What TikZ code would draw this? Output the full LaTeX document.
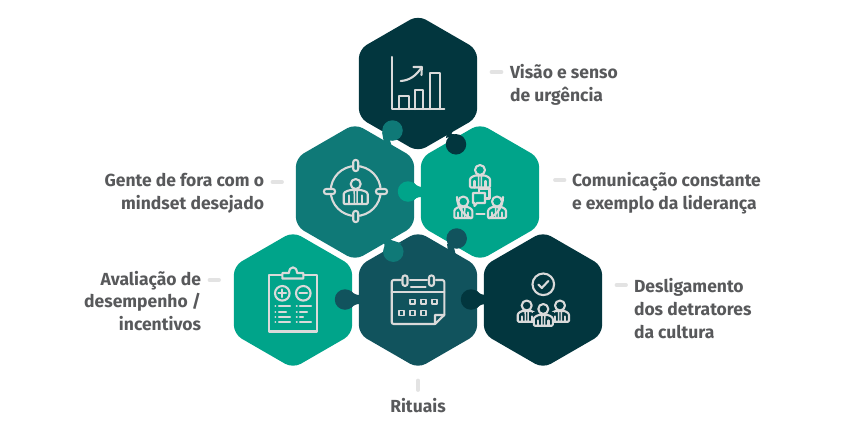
\documentclass[tikz,border=0pt]{standalone}
\usepackage{fontspec}
\setmainfont{Fira Sans}
\usetikzlibrary{shapes.geometric,arrows.meta}
\definecolor{cdark}{HTML}{02363E}
\definecolor{cteal}{HTML}{0F7977}
\definecolor{cgreen}{HTML}{00A48A}
\definecolor{cmid}{HTML}{11535D}
\definecolor{cicon}{HTML}{DADADA}
\definecolor{ctext}{HTML}{58595B}
\definecolor{cdash}{HTML}{E3E3E3}
\tikzset{
 x=1pt,y=-1pt,
 hexa/.style={regular polygon,regular polygon sides=6,shape border rotate=30,minimum size=136.6pt,inner sep=0pt,outer sep=0pt,fill=#1,draw=none,rounded corners=9pt},
 knob/.style={circle,minimum size=20.5pt,inner sep=0pt,outer sep=0pt,fill=#1,draw=none},
 lab/.style={font=\bfseries\fontsize{17.5}{22.7}\selectfont,text=ctext,inner sep=0pt,outer sep=0pt,align=#1},
 dashmark/.style={draw=cdash,line width=3.8pt,line cap=round},
 ico/.style={draw=cicon,line width=2.1pt,line join=round,line cap=round},
}
% person: cx, head centre y, head r, half width, body top, body bottom
\newcommand{\personicon}[6]{%
 \draw[ico] (#1,#2) circle (#3);
 \draw[ico,rounded corners=1pt] (#1-#4,#6) -- (#1-#4,#5+5) .. controls (#1-#4,#5+1.5) and (#1-#4*.5,#5) .. (#1-#3*.6,#5)
   -- (#1+#3*.6,#5) .. controls (#1+#4*.5,#5) and (#1+#4,#5+1.5) .. (#1+#4,#5+5) -- (#1+#4,#6) -- cycle;
 \draw[ico] (#1-#4*.55,#6) -- (#1-#4*.55,#5+5.5);
 \draw[ico] (#1+#4*.55,#6) -- (#1+#4*.55,#5+5.5);
 \draw[ico,line width=1.5pt] (#1-#3*.3,#5+.5) -- (#1-1.3,#6) -- (#1+1.3,#6) -- (#1+#3*.3,#5+.5);
}
\begin{document}
\begin{tikzpicture}
\useasboundingbox (0,0) rectangle (849,429);
% hexagons
\node[hexa=cdark]  (hA) at (418,83.5) {};
\node[hexa=cteal]  (hB) at (355,192) {};
\node[hexa=cgreen] (hC) at (480,192) {};
\node[hexa=cgreen] (hD) at (293,300) {};
\node[hexa=cmid]   (hE) at (418,300) {};
\node[hexa=cdark]  (hF) at (543,300) {};
% knobs with necks
\node[knob=cteal] (k1) at (392.5,130.5) {};
\fill[cteal] (382,132) -- (384,143) -- (392,147) -- (390,140.5) -- (396,139) -- cycle;
\node[knob=cdark] (k2) at (456,144.3) {};
\fill[cdark] (446,138) -- (447,132) -- (454,128) -- (451.5,134) -- (457,134.5) -- cycle;
\node[knob=cgreen] (k3) at (408,191.5) {};
\fill[cgreen] (414,183) .. controls (417,186) and (419,187) .. (423,187) -- (423,197) .. controls (419,197) and (417,197) .. (414,200) -- cycle;
\node[knob=cmid] (k4) at (456.7,238.5) {};
\fill[cmid] (447,243.5) -- (448,252) -- (456,256) -- (454,247.5) -- (458,248) -- cycle;
\node[knob=cteal] (k5) at (393.3,251.7) {};
\fill[cteal] (384.5,247) -- (384,241) -- (389,238) -- (391,240) -- (401.7,243.5) -- cycle;
\node[knob=cmid] (k6) at (345,299.5) {};
\fill[cmid] (351,291) .. controls (354,294) and (356,295) .. (360,295) -- (360,304) .. controls (356,304) and (354,305) .. (351,308) -- cycle;
\node[knob=cdark] (k7) at (471,299.5) {};
\fill[cdark] (477,291) .. controls (480,294) and (482,295) .. (485,295) -- (485,304) .. controls (482,304) and (480,305) .. (477,308) -- cycle;
% icon A: chart
\draw[ico] (392.3,57) -- (392.3,109) -- (444.3,109);
\draw[ico] (398.7,109) -- (398.7,96) -- (409.3,96) -- (409.3,109);
\draw[ico] (414.7,109) -- (414.7,90) -- (423.3,90) -- (423.3,109);
\draw[ico] (430,109) -- (430,73) -- (440,73) -- (440,109);
\draw[ico] (400.7,81) .. controls (409,80.5) and (416,76) .. (421.5,67.5);
\draw[ico] (413.5,67) -- (421.8,67) -- (421.5,75);
% icon B: target
\draw[ico] (355.7,191) circle (25);
\foreach \a/\b in {355.7/165.5,355.7/216.5}{\fill[cteal] (\a-3,\b-6) rectangle (\a+3,\b+6);
 \draw[ico,rounded corners=2.2pt] (\a-2.5,\b-5.5) rectangle (\a+2.5,\b+5.5);}
\foreach \a/\b in {329.5/191.5,381.5/191.5}{\fill[cteal] (\a-6,\b-3) rectangle (\a+6,\b+3);
 \draw[ico,rounded corners=2.2pt] (\a-5.5,\b-2.5) rectangle (\a+5.5,\b+2.5);}
\personicon{355.7}{184}{5}{12}{190}{204}
% icon C: people + chat
\draw[ico] (457,197) arc (180:112:23);
\draw[ico] (503,197) arc (0:68:23);
\personicon{480}{170}{5}{10}{175.5}{187.5}
\personicon{463.3}{201.5}{5}{9}{207}{218}
\personicon{497}{201.5}{5}{9}{207}{218}
\draw[ico] (476.5,214) -- (484.5,214);
\draw[ico] (473,193) -- (485,193) -- (485,203) -- (477,203) -- (474.5,206) -- (474.5,203) -- (473,203) -- cycle;
\draw[ico] (479,193) -- (479,188.5) -- (489.5,188.5) -- (489.5,198.5) -- (485,198.5);
% icon D: clipboard
\draw[ico] (282,275) -- (269,275) -- (269,331.5) -- (316.7,331.5) -- (316.7,275) -- (303.5,275);
\draw[ico] (282.3,278.5) -- (282.3,273) -- (289,273) .. controls (289,265.5) and (297,265.5) .. (297,273) -- (303.3,273) -- (303.3,278.5) -- cycle;
\draw[ico] (282.3,293.3) circle (7.3);
\draw[ico] (303.3,293.3) circle (7.3);
\draw[ico] (278.5,293.3) -- (286.2,293.3) (282.3,289.5) -- (282.3,297.2);
\draw[ico] (299.5,293.3) -- (307.2,293.3);
\foreach \y/\p/\q in {306.3/290/311,311.7/286/307,317/290/303,322.3/290/311}{
 \draw[ico] (275.3,\y) -- (275.4,\y) (278.8,\y) -- (\p,\y) (296.7,\y) -- (296.8,\y) (300,\y) -- (\q,\y);
}
% icon E: calendar
\draw[ico,rounded corners=2pt] (401,280) -- (391.7,280) -- (391.7,324) -- (435,324);
\draw[ico,rounded corners=2pt] (410,280) -- (427,280);
\draw[ico,rounded corners=2pt] (436,280) -- (444.3,280) -- (444.3,315);
\draw[ico] (435,324) -- (444.3,315) -- (435,315) -- cycle;
\draw[ico] (391.7,292.3) -- (444.3,292.3);
\draw[ico,rounded corners=2.2pt] (402.5,275.5) rectangle (407.5,285.8);
\draw[ico,rounded corners=2.2pt] (429,275.5) rectangle (434,285.8);
\draw[ico] (411,286.7) -- (425.5,286.7);
\foreach \a/\b in {412.3/301.8,423.3/301.8,434.3/301.8,401.3/313,412.3/313,423.3/313}{
 \draw[ico,line width=1.7pt] (\a-2.4,\b-2.4) rectangle (\a+2.4,\b+2.4);}
% icon F: check + people
\draw[ico] (543.3,284.3) circle (10.8);
\draw[ico] (538.3,284.5) -- (541.8,288) -- (548.3,281);
\personicon{526.7}{305.5}{5}{9}{311}{321.7}
\personicon{560}{305.5}{5}{9}{311}{321.7}
\fill[cdark] (532.5,312) rectangle (554,327);
\personicon{543.3}{309}{5}{9.5}{315}{325.7}
% labels
\node[lab=left,anchor=west] (tA) at (510,84.5) {Visão e senso\\de urgência};
\node[lab=left,anchor=west] (tC) at (572,193) {Comunicação constante\\e exemplo da liderança};
\node[lab=left,anchor=west] (tF) at (634,308.5) {Desligamento\\dos detratores\\da cultura};
\node[lab=right,anchor=east] (tB) at (264,193) {Gente de fora com o\\mindset desejado};
\node[lab=right,anchor=east] (tD) at (201,301) {Avaliação de\\desempenho /\\incentivos};
\node[lab=center,anchor=center] (tE) at (418,406) {Rituais};
% dashes
\coordinate (dA) at (491.5,72); \coordinate (dA2) at (501.5,72);
\coordinate (dC) at (555,180); \coordinate (dC2) at (564.5,180);
\coordinate (dF) at (616.5,285); \coordinate (dF2) at (626,285);
\coordinate (dB) at (272.5,182); \coordinate (dB2) at (282,182);
\coordinate (dD) at (209.5,280); \coordinate (dD2) at (219,280);
\coordinate (dE) at (418,380.5); \coordinate (dE2) at (418,390);
\foreach \p/\q in {dA/dA2,dC/dC2,dF/dF2,dB/dB2,dD/dD2,dE/dE2}{\draw[dashmark] (\p) -- (\q);}
\end{tikzpicture}
\end{document}
